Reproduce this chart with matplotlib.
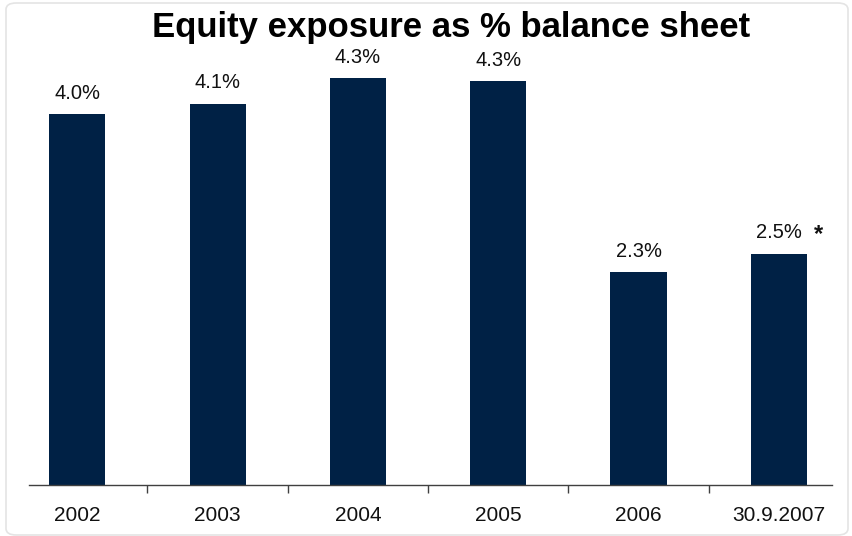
import matplotlib
matplotlib.use("Agg")
import matplotlib.pyplot as plt
from matplotlib.patches import FancyBboxPatch

categories = ["2002", "2003", "2004", "2005", "2006", "30.9.2007"]
exposure_pct = [3.96, 4.07, 4.34, 4.31, 2.27, 2.47]
footnote_mark = "*"

W, H = 852, 536
fig = plt.figure(figsize=(W / 100, H / 100), dpi=100)
plt.rcParams["font.family"] = ["Liberation Sans", "DejaVu Sans"]

# light rounded frame around the whole figure
frame = FancyBboxPatch((6 / W, 1 / H), (842 / W), (532 / H),
                       boxstyle="round,pad=0,rounding_size=0.012",
                       transform=fig.transFigure, facecolor="none",
                       edgecolor="#e4e4e4", linewidth=1.2, zorder=-1)
fig.patches.append(frame)

left, right, bottom, top = 29, 832, 485, 40
ax = fig.add_axes([left / W, (H - bottom) / H, (right - left) / W, (bottom - top) / H])
ax.set_facecolor("none")

x = list(range(len(categories)))
bars = ax.bar(x, exposure_pct, width=0.40, color="#002145", zorder=2)

ax.set_xlim(-0.344, 5.379)
ax.set_ylim(0, 4.75)

for xi, v in zip(x, exposure_pct):
    ax.text(xi, v + 0.12, f"{v:.1f}%", ha="center", va="bottom",
            fontsize=14.5, color="#111111")
ax.text(x[-1] + 0.28, exposure_pct[-1] + 0.08, footnote_mark, ha="center",
        va="bottom", fontsize=17, fontweight="bold", color="#111111")

for side in ("left", "right", "top"):
    ax.spines[side].set_visible(False)
ax.spines["bottom"].set_color("#404040")
ax.spines["bottom"].set_linewidth(1.0)
ax.set_yticks([])

ax.set_xticks(x)
ax.set_xticklabels(categories, fontsize=15, color="#111111")
ax.tick_params(axis="x", which="major", length=0, pad=15)
ax.set_xticks([i + 0.5 for i in x[:-1]], minor=True)
ax.tick_params(axis="x", which="minor", length=6, width=1.0, color="#404040",
               direction="out")

fig.text(451 / W, 1 - 27 / H, "Equity exposure as % balance sheet",
         ha="center", va="center", fontsize=25, fontweight="bold",
         color="#000000")

fig.savefig("out.png", dpi=100)
